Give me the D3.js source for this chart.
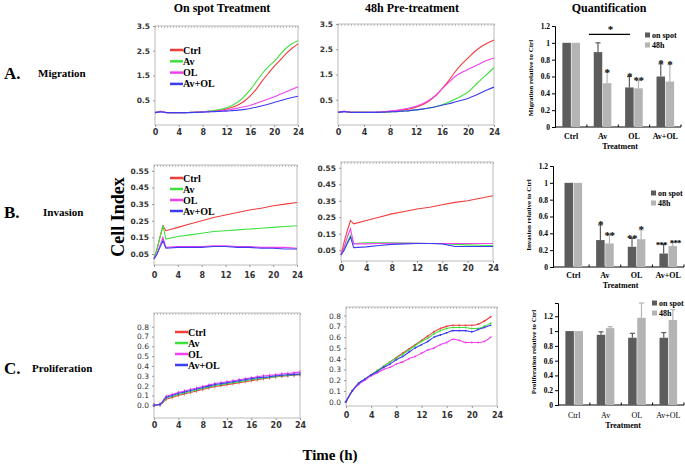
<!DOCTYPE html>
<html>
<head>
<meta charset="utf-8">
<script src="https://cdn.jsdelivr.net/npm/d3@7"></script>
<style>
body { margin: 0; background: #fff; }
svg { display: block; }
</style>
</head>
<body>
<script>
// ---- Data ----
var seriesNames = ["Ctrl", "Av", "OL", "Av+OL"];
var seriesColors = ["#f03c3c", "#3ee03e", "#f040f0", "#3c3cf0"];

// A. Migration (cell index vs hours)
var migHours = [0,1,2,3,4,5,6,7,8,9,10,11,12,13,14,15,16,17,18,19,20,21,22,23,24];
var migSpotCtrl = [0,0.05,0,0,0,0,0.01,0.02,0.03,0.05,0.07,0.1,0.15,0.22,0.32,0.47,0.68,0.95,1.28,1.58,1.87,2.12,2.38,2.6,2.78];
var migSpotAv   = [0,0.05,0,0,0,0,0.01,0.02,0.04,0.06,0.09,0.13,0.2,0.3,0.45,0.66,0.93,1.25,1.58,1.85,2.07,2.35,2.6,2.78,2.9];
var migSpotOL   = [0,0.04,0,0,0,0,0.01,0.02,0.03,0.04,0.05,0.08,0.1,0.14,0.19,0.24,0.3,0.38,0.46,0.55,0.64,0.74,0.84,0.94,1.05];
var migSpotAvOL = [0,0.03,0,0,0,0,0,0.01,0.02,0.03,0.04,0.05,0.06,0.08,0.1,0.13,0.17,0.22,0.28,0.34,0.41,0.48,0.55,0.61,0.66];
var migPreCtrl  = [0,0.04,0,0,0,0,0.01,0.02,0.04,0.07,0.1,0.14,0.2,0.3,0.45,0.65,0.93,1.25,1.6,1.9,2.15,2.4,2.6,2.75,2.87];
var migPreAv    = [0,0.03,0,0,0,0,0,0.01,0.02,0.03,0.05,0.07,0.1,0.13,0.17,0.22,0.3,0.4,0.52,0.65,0.8,1.05,1.3,1.53,1.77];
var migPreOL    = [0,0.04,0,0,0,0,0.01,0.02,0.05,0.08,0.12,0.17,0.24,0.34,0.48,0.67,0.93,1.18,1.42,1.58,1.7,1.83,1.95,2.06,2.15];
var migPreAvOL  = [0,0.03,0,0,0,0,0,0.01,0.02,0.03,0.05,0.07,0.1,0.13,0.17,0.22,0.28,0.34,0.41,0.48,0.55,0.66,0.78,0.9,1.0];

// B. Invasion
var invHours = [0,0.5,1,1.5,2,4,6,8,10,12,14,16,18,20,22,24];
var invSpotCtrl = [0.02,0.08,0.15,0.22,0.19,0.21,0.23,0.25,0.27,0.285,0.3,0.315,0.325,0.34,0.35,0.36];
var invSpotAv   = [0.02,0.08,0.15,0.22,0.14,0.155,0.165,0.175,0.185,0.19,0.195,0.2,0.205,0.21,0.215,0.22];
var invSpotOL   = [0.02,0.05,0.1,0.15,0.09,0.095,0.095,0.095,0.1,0.1,0.095,0.095,0.09,0.09,0.09,0.085];
var invSpotAvOL = [0.02,0.05,0.09,0.13,0.085,0.09,0.09,0.09,0.095,0.095,0.09,0.09,0.085,0.085,0.08,0.08];
var invPreCtrl  = [0.02,0.1,0.17,0.23,0.21,0.23,0.25,0.27,0.285,0.3,0.31,0.325,0.34,0.35,0.365,0.38];
var invPreAv    = [0.02,0.06,0.1,0.14,0.09,0.095,0.095,0.095,0.093,0.092,0.09,0.09,0.085,0.082,0.08,0.078];
var invPreOL    = [0.02,0.07,0.13,0.18,0.088,0.088,0.09,0.092,0.092,0.092,0.09,0.09,0.09,0.09,0.09,0.09];
var invPreAvOL  = [0.02,0.05,0.09,0.13,0.065,0.07,0.078,0.085,0.088,0.09,0.09,0.088,0.072,0.072,0.072,0.072];

// C. Proliferation
var proHours = [0,1,2,3,4,5,6,7,8,9,10,11,12,13,14,15,16,17,18,19,20,21,22,23,24];
var proSpotCtrl = [0,0.005,0.06,0.08,0.1,0.115,0.13,0.145,0.16,0.175,0.19,0.2,0.21,0.22,0.23,0.24,0.25,0.26,0.27,0.28,0.29,0.295,0.3,0.305,0.31];
var proSpotAv   = [0,0.005,0.07,0.09,0.11,0.125,0.14,0.155,0.17,0.185,0.2,0.21,0.22,0.23,0.24,0.25,0.26,0.27,0.275,0.285,0.29,0.3,0.305,0.31,0.315];
var proSpotOL   = [0,0.01,0.09,0.11,0.13,0.145,0.16,0.175,0.19,0.205,0.22,0.23,0.24,0.25,0.26,0.27,0.28,0.29,0.3,0.305,0.31,0.32,0.325,0.33,0.34];
var proSpotAvOL = [0,0.01,0.08,0.1,0.12,0.135,0.15,0.165,0.18,0.195,0.21,0.22,0.23,0.24,0.25,0.26,0.27,0.28,0.285,0.29,0.3,0.305,0.31,0.315,0.32];
var proPreHours = [0,1,2,3,4,5,6,7,8,9,10,11,12,13,14,15,16,17,18,19,20,21,22,23];
var proPreCtrl  = [0,0.1,0.17,0.21,0.25,0.29,0.33,0.37,0.41,0.45,0.49,0.53,0.57,0.61,0.65,0.68,0.7,0.71,0.71,0.71,0.71,0.72,0.75,0.79];
var proPreAv    = [0,0.1,0.17,0.21,0.25,0.29,0.33,0.37,0.405,0.44,0.48,0.52,0.56,0.59,0.63,0.66,0.68,0.69,0.69,0.69,0.68,0.68,0.7,0.73];
var proPreOL    = [0,0.1,0.16,0.2,0.24,0.27,0.3,0.32,0.35,0.37,0.4,0.42,0.45,0.48,0.5,0.53,0.55,0.58,0.57,0.55,0.55,0.55,0.56,0.6];
var proPreAvOL  = [0,0.1,0.17,0.21,0.25,0.28,0.32,0.35,0.39,0.42,0.46,0.5,0.53,0.56,0.6,0.62,0.64,0.66,0.66,0.66,0.65,0.67,0.69,0.71];

// Quantification bars
var groups = ["Ctrl", "Av", "OL", "Av+OL"];
var migOnSpot = [1, 0.89, 0.47, 0.6];
var migOnSpotErr = [0, 0.11, 0.13, 0.15];
var mig48h = [1, 0.52, 0.46, 0.54];
var mig48hErr = [0.003, 0.13, 0.09, 0.2];
var migStarsOnSpot = ["", "", "*", "*"];
var migStars48h = ["", "*", "**", "*"];

var invOnSpot = [1, 0.32, 0.24, 0.16];
var invOnSpotErr = [0, 0.18, 0.1, 0.11];
var inv48h = [1, 0.28, 0.33, 0.25];
var inv48hErr = [0.01, 0.1, 0.11, 0.04];
var invStarsOnSpot = ["", "*", "**", "***"];
var invStars48h = ["", "**", "*", "***"];

var proOnSpot = [1, 0.95, 0.91, 0.91];
var proOnSpotErr = [0, 0.04, 0.06, 0.07];
var pro48h = [1, 1.04, 1.18, 1.15];
var pro48hErr = [0, 0.02, 0.2, 0.14];

var barTicks = [0, 0.2, 0.4, 0.6, 0.8, 1, 1.2];

var serif = "'Liberation Serif', 'Times New Roman', serif";
var sans = "'DejaVu Sans', Verdana, sans-serif";

// SVG element
var svg = d3.select("body").append("svg")
  .attr("width", 685)
  .attr("height", 466);

// Line chart panel
function linePanel(p) {
  var x = d3.scaleLinear().domain([0, 24]).range([p.left, p.right]);
  var y = d3.scaleLinear().domain(p.yDomain).range([p.bottom, p.top]);
  var g = svg.append("g");

  g.append("rect")
    .attr("x", p.left).attr("y", p.top)
    .attr("width", p.right - p.left).attr("height", p.bottom - p.top)
    .attr("fill", "none").attr("stroke", "#aaa").attr("stroke-width", 0.8);

  // small dotted ticks on top edge
  var top = g.append("g")
    .attr("transform", "translate(0," + p.top + ")")
    .call(d3.axisBottom(x).ticks(48).tickSize(2).tickFormat(""));
  top.select(".domain").remove();
  top.selectAll("line").attr("stroke", "#999").attr("stroke-width", 0.6);

  var ya = g.append("g")
    .attr("transform", "translate(" + p.left + ",0)")
    .call(d3.axisLeft(y).tickValues(p.yTicks).tickSize(2).tickPadding(3).tickFormat(d3.format(p.fmt)));
  ya.select(".domain").remove();
  ya.selectAll("line").attr("stroke", "#999");
  ya.selectAll("text")
    .style("font-family", sans).style("font-size", "7.5px")
    .style("font-weight", p.boldY ? "bold" : "normal").attr("fill", "#333");

  var xa = g.append("g")
    .attr("transform", "translate(0," + p.bottom + ")")
    .call(d3.axisBottom(x).tickValues([0, 4, 8, 12, 16, 20, 24]).tickSize(2).tickPadding(p.xPad));
  xa.select(".domain").remove();
  xa.selectAll("line").attr("stroke", "#999");
  xa.selectAll("text")
    .style("font-family", sans).style("font-size", "8px")
    .style("font-weight", "bold").attr("fill", "#333");

  var line = d3.line()
    .x(function (d, i) { return x(p.times[i]); })
    .y(function (d) { return y(d); })
    .curve(p.curve);

  p.series.forEach(function (s, k) {
    g.append("path")
      .attr("d", line(s))
      .attr("fill", "none")
      .attr("stroke", seriesColors[k])
      .attr("stroke-width", 1.1);
    if (p.marks === "ticks") {
      g.selectAll(null).data(s).enter().append("line")
        .attr("x1", function (d, i) { return x(p.times[i]); })
        .attr("x2", function (d, i) { return x(p.times[i]); })
        .attr("y1", function (d) { return y(d) - 1.8; })
        .attr("y2", function (d) { return y(d) + 1.8; })
        .attr("stroke", seriesColors[k]).attr("stroke-width", 0.7);
    } else if (p.marks === "dots") {
      g.selectAll(null).data(s).enter().append("circle")
        .attr("cx", function (d, i) { return x(p.times[i]); })
        .attr("cy", function (d) { return y(d); })
        .attr("r", 0.9).attr("fill", seriesColors[k]);
    }
  });

  if (p.legend) {
    seriesNames.forEach(function (n, k) {
      var ly = p.legend.y + k * p.legend.step;
      g.append("line")
        .attr("x1", p.legend.x).attr("x2", p.legend.x + 13)
        .attr("y1", ly).attr("y2", ly)
        .attr("stroke", seriesColors[k]).attr("stroke-width", 2.5);
      g.append("text")
        .attr("x", p.legend.x + 13).attr("y", ly + 3.5)
        .style("font-family", serif).style("font-size", "10px").style("font-weight", "bold")
        .text(n);
    });
  }
}

// Bar chart panel
function barPanel(p) {
  var x = d3.scaleBand().domain(groups).range(p.xRange);
  var y = d3.scaleLinear().domain([0, p.yMax]).range([p.y0, p.yTop]);
  var g = svg.append("g");
  var bw = 8.5;

  var ya = g.append("g")
    .attr("transform", "translate(" + p.axisX + ",0)")
    .call(d3.axisLeft(y).tickValues(barTicks).tickSize(3).tickPadding(2).tickFormat(d3.format("")));
  ya.selectAll("line,path").attr("stroke", "#000");
  ya.selectAll("text")
    .style("font-family", serif).style("font-size", "7.5px").style("font-weight", "bold").attr("fill", "#000");

  g.append("line")
    .attr("x1", p.axisX).attr("x2", p.xRange[1])
    .attr("y1", p.y0).attr("y2", p.y0)
    .attr("stroke", "#000");
  groups.forEach(function (c) {
    g.append("line")
      .attr("x1", x(c) + x.bandwidth()).attr("x2", x(c) + x.bandwidth())
      .attr("y1", p.y0).attr("y2", p.y0 - 2.5).attr("stroke", "#000");
  });

  function bars(vals, errs, stars, off, color, shift) {
    vals.forEach(function (v, i) {
      var cx = x(groups[i]) + x.bandwidth() / 2 + off;
      g.append("rect")
        .attr("x", cx - bw / 2).attr("y", y(v))
        .attr("width", bw).attr("height", y(0) - y(v))
        .attr("fill", color);
      var top = y(v + errs[i]);
      if (errs[i] > 0.01) {
        g.append("line").attr("x1", cx).attr("x2", cx).attr("y1", y(v)).attr("y2", top)
          .attr("stroke", color).attr("stroke-width", 1.2);
        g.append("line").attr("x1", cx - 2.5).attr("x2", cx + 2.5).attr("y1", top).attr("y2", top)
          .attr("stroke", color).attr("stroke-width", 1.2);
      }
      if (stars && stars[i]) {
        var wide = stars[i].length > 2;
        g.append("text")
          .attr("x", cx + (wide ? shift : 0)).attr("y", top + 3.5)
          .attr("text-anchor", "middle")
          .style("font-family", serif).style("font-size", wide ? "9px" : "11px").style("font-weight", "bold")
          .style("letter-spacing", wide ? "-0.9px" : "-0.5px")
          .text(stars[i]);
      }
    });
  }
  bars(p.onSpot, p.onSpotErr, p.starsA, -bw / 2 - 0.3, "#5c5c5c", -2.5);
  bars(p.h48, p.h48Err, p.starsB, bw / 2 + 0.3, "#b4b4b4", 2.5);

  groups.forEach(function (c) {
    g.append("text")
      .attr("x", x(c) + x.bandwidth() / 2).attr("y", p.catY)
      .attr("text-anchor", "middle")
      .style("font-family", serif).style("font-size", "8px")
      .style("font-weight", p.catBold ? "bold" : "normal")
      .text(c);
  });
  g.append("text")
    .attr("x", (p.axisX + p.xRange[1]) / 2 + 2).attr("y", p.treatY)
    .attr("text-anchor", "middle")
    .style("font-family", serif).style("font-size", "8px").style("font-weight", "bold")
    .text("Treatment");

  g.append("text")
    .attr("transform", "translate(" + p.labelX + "," + p.labelY + ") rotate(-90)")
    .attr("text-anchor", "middle")
    .style("font-family", serif).style("font-size", "7px").style("font-weight", "bold")
    .text(p.yLabel);

  [["on spot", "#5c5c5c"], ["48h", "#b4b4b4"]].forEach(function (l, k) {
    var ly = p.legend.y + k * 10;
    g.append("rect").attr("x", p.legend.x).attr("y", ly - 2.5).attr("width", 5).attr("height", 5).attr("fill", l[1]);
    g.append("text").attr("x", p.legend.x + 7).attr("y", ly + 3)
      .style("font-family", serif).style("font-size", "8px").style("font-weight", "bold")
      .text(l[0]);
  });

  if (p.bracket) {
    var by = y(1.1);
    g.append("line")
      .attr("x1", x("Av") + 2).attr("x2", x("OL") + x.bandwidth() / 2 - 4)
      .attr("y1", by).attr("y2", by).attr("stroke", "#000").attr("stroke-width", 1.2);
    g.append("text")
      .attr("x", (x("Av") + x("OL") + x.bandwidth() / 2) / 2).attr("y", by - 1.5)
      .attr("text-anchor", "middle")
      .style("font-family", serif).style("font-size", "11px").style("font-weight", "bold")
      .text("*");
  }
}

// ---- Row A: Migration ----
linePanel({ left: 155, right: 298, top: 26, bottom: 125, yDomain: [-0.5, 3.5], yTicks: [0.5, 1.5, 2.5, 3.5], fmt: ".1f", boldY: true, xPad: 2,
  times: migHours, series: [migSpotCtrl, migSpotAv, migSpotOL, migSpotAvOL], curve: d3.curveMonotoneX,
  legend: { x: 170, y: 50, step: 11.3 } });
linePanel({ left: 338, right: 494, top: 24, bottom: 125, yDomain: [-0.5, 3.5], yTicks: [0.5, 1.5, 2.5, 3.5], fmt: ".1f", boldY: true, xPad: 2,
  times: migHours, series: [migPreCtrl, migPreAv, migPreOL, migPreAvOL], curve: d3.curveMonotoneX });

// ---- Row B: Invasion ----
linePanel({ left: 154, right: 297, top: 165, bottom: 265, yDomain: [-0.016, 0.585], yTicks: [0.05, 0.15, 0.25, 0.35, 0.45, 0.55], fmt: ".2f", boldY: true, xPad: 5,
  times: invHours, series: [invSpotCtrl, invSpotAv, invSpotOL, invSpotAvOL], curve: d3.curveLinear,
  legend: { x: 170, y: 178, step: 11 } });
linePanel({ left: 341, right: 493, top: 162, bottom: 261, yDomain: [-0.016, 0.585], yTicks: [0.05, 0.15, 0.25, 0.35, 0.45, 0.55], fmt: ".2f", boldY: true, xPad: 2,
  times: invHours, series: [invPreCtrl, invPreAv, invPreOL, invPreAvOL], curve: d3.curveLinear });

// ---- Row C: Proliferation ----
linePanel({ left: 154, right: 300, top: 313, bottom: 418, yDomain: [-0.13, 0.94], yTicks: [0, 0.1, 0.2, 0.3, 0.4, 0.5, 0.6, 0.7, 0.8], fmt: ".1f", boldY: false, xPad: 2,
  times: proHours, series: [proSpotCtrl, proSpotAv, proSpotOL, proSpotAvOL], curve: d3.curveMonotoneX, marks: "ticks",
  legend: { x: 175, y: 332, step: 11 } });
linePanel({ left: 346, right: 497, top: 307, bottom: 406, yDomain: [-0.04, 0.88], yTicks: [0, 0.1, 0.2, 0.3, 0.4, 0.5, 0.6, 0.7, 0.8], fmt: ".1f", boldY: false, xPad: 4,
  times: proPreHours, series: [proPreCtrl, proPreAv, proPreOL, proPreAvOL], curve: d3.curveMonotoneX, marks: "dots" });

// ---- Quantification ----
barPanel({ axisX: 555, xRange: [555.5, 681], y0: 127, yTop: 26, yMax: 1.2,
  onSpot: migOnSpot, onSpotErr: migOnSpotErr, h48: mig48h, h48Err: mig48hErr,
  starsA: migStarsOnSpot, starsB: migStars48h, catY: 139, catBold: true, treatY: 149,
  labelX: 533, labelY: 78, yLabel: "Migration relative to Ctrl", legend: { x: 645, y: 35 }, bracket: true });
barPanel({ axisX: 553, xRange: [557.5, 684], y0: 267, yTop: 166, yMax: 1.2,
  onSpot: invOnSpot, onSpotErr: invOnSpotErr, h48: inv48h, h48Err: inv48hErr,
  starsA: invStarsOnSpot, starsB: invStars48h, catY: 278, catBold: true, treatY: 288,
  labelX: 531, labelY: 215, yLabel: "Invasion relative to Ctrl", legend: { x: 651, y: 193 } });
barPanel({ axisX: 558, xRange: [558.5, 684], y0: 405, yTop: 303, yMax: 1.38,
  onSpot: proOnSpot, onSpotErr: proOnSpotErr, h48: pro48h, h48Err: pro48hErr,
  catY: 418, catBold: false, treatY: 428,
  labelX: 536, labelY: 352, yLabel: "Proliferation relative to Ctrl", legend: { x: 652, y: 303 } });

// ---- Titles and labels ----
function label(txt, x, y, size, anchor) {
  svg.append("text")
    .attr("x", x).attr("y", y)
    .attr("text-anchor", anchor || "start")
    .style("font-family", serif).style("font-size", size + "px").style("font-weight", "bold")
    .text(txt);
}
label("On spot Treatment", 222, 12, 12, "middle");
label("48h Pre-treatment", 412, 12, 12, "middle");
label("Quantification", 609, 12, 12, "middle");

label("A.", 4, 79, 17);
label("Migration", 38, 77, 11);
label("B.", 4, 218, 17);
label("Invasion", 43, 216, 11);
label("C.", 4, 374, 17);
label("Proliferation", 32, 372, 11);

svg.append("text")
  .attr("transform", "translate(124,217) rotate(-90)")
  .attr("text-anchor", "middle")
  .style("font-family", serif).style("font-size", "18px").style("font-weight", "bold")
  .text("Cell  Index");

label("Time (h)", 330, 460, 15, "middle");
</script>
</body>
</html>
